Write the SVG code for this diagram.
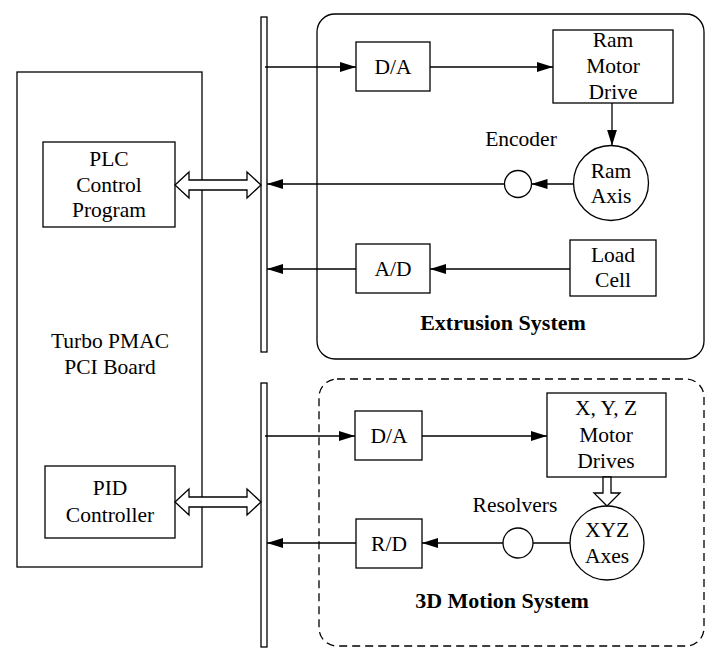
<svg xmlns="http://www.w3.org/2000/svg" width="710" height="656" viewBox="0 0 710 656" font-family="Liberation Serif, serif">
<style>
.b{fill:#fff;stroke:#000;stroke-width:1.3}
.t{font-size:21.5px;fill:#000;text-anchor:middle}
.bt{font-size:22px;font-weight:bold;fill:#000;text-anchor:middle}
.c{fill:none;stroke:#000;stroke-width:1.3}
.h{fill:#fff;stroke:#000;stroke-width:1.3;stroke-linejoin:miter}
</style>
<defs>
<marker id="ah" viewBox="0 0 16 10" refX="16" refY="5" markerWidth="16" markerHeight="10" markerUnits="userSpaceOnUse" orient="auto">
<path d="M0,0 L16,5 L0,10 Z" fill="#000"/>
</marker>
</defs>
<rect x="0" y="0" width="710" height="656" fill="#fff"/>

<g id="extrusion-system">
<rect class="b" x="317" y="14" width="387" height="345" rx="18"/>
<text class="bt" x="503" y="330" font-family="Liberation Serif, serif">Extrusion System</text>
</g>
<g id="motion-system">
<rect class="b" x="319" y="379" width="385" height="267" rx="18" stroke-dasharray="8,5"/>
<text class="bt" x="502" y="608" font-family="Liberation Serif, serif">3D Motion System</text>
</g>

<g id="pmac-board" font-family="Liberation Serif, serif">
<rect class="b" x="17" y="72" width="185" height="495"/>
<text class="t" x="110" y="348">Turbo PMAC</text>
<text class="t" x="110" y="374">PCI Board</text>
</g>
<g id="plc" font-family="Liberation Serif, serif">
<rect class="b" x="43" y="142" width="132" height="85"/>
<text class="t" x="109" y="166">PLC</text>
<text class="t" x="109" y="192">Control</text>
<text class="t" x="109" y="217">Program</text>
</g>
<g id="pid" font-family="Liberation Serif, serif">
<rect class="b" x="45" y="466" width="130" height="72"/>
<text class="t" x="110" y="495">PID</text>
<text class="t" x="110" y="522">Controller</text>
</g>

<g id="bus1"><rect class="b" x="261" y="17" width="6" height="335"/></g>
<g id="bus2"><rect class="b" x="261" y="383" width="6" height="264"/></g>

<g id="da1" font-family="Liberation Serif, serif">
<rect class="b" x="356" y="42" width="74" height="49"/>
<text class="t" x="393" y="74">D/A</text>
</g>
<g id="ram-motor-drive" font-family="Liberation Serif, serif">
<rect class="b" x="553" y="30" width="120" height="73"/>
<text class="t" x="613" y="47">Ram</text>
<text class="t" x="613" y="73">Motor</text>
<text class="t" x="613" y="99">Drive</text>
</g>
<g id="ram-axis" font-family="Liberation Serif, serif">
<circle class="b" cx="611" cy="183" r="37.5"/>
<text class="t" x="611" y="178">Ram</text>
<text class="t" x="611" y="203">Axis</text>
</g>
<g id="encoder" font-family="Liberation Serif, serif">
<circle class="b" cx="518" cy="184" r="13.5"/>
<text class="t" x="521" y="146">Encoder</text>
</g>
<g id="ad" font-family="Liberation Serif, serif">
<rect class="b" x="356" y="244" width="74" height="49"/>
<text class="t" x="393" y="276">A/D</text>
</g>
<g id="load-cell" font-family="Liberation Serif, serif">
<rect class="b" x="570" y="240" width="86" height="56"/>
<text class="t" x="613" y="262">Load</text>
<text class="t" x="613" y="287">Cell</text>
</g>

<g id="da2" font-family="Liberation Serif, serif">
<rect class="b" x="355" y="411" width="67" height="49"/>
<text class="t" x="389" y="443">D/A</text>
</g>
<g id="xyz-motor-drives" font-family="Liberation Serif, serif">
<rect class="b" x="547" y="393" width="119" height="84"/>
<text class="t" x="606" y="415">X, Y, Z</text>
<text class="t" x="606" y="442">Motor</text>
<text class="t" x="606" y="468">Drives</text>
</g>
<g id="xyz-axes" font-family="Liberation Serif, serif">
<circle class="b" cx="607" cy="543" r="37"/>
<text class="t" x="607" y="537">XYZ</text>
<text class="t" x="607" y="563">Axes</text>
</g>
<g id="resolver" font-family="Liberation Serif, serif">
<circle class="b" cx="518" cy="543" r="15"/>
<text class="t" x="515" y="512">Resolvers</text>
</g>
<g id="rd" font-family="Liberation Serif, serif">
<rect class="b" x="356" y="519" width="66" height="49"/>
<text class="t" x="389" y="551">R/D</text>
</g>

<g id="connectors">
<polygon class="h" points="175,185 189,172 189,180 247,180 247,172 261,185 247,198 247,190 189,190 189,198"/>
<polygon class="h" points="175,502 189,489 189,497 247,497 247,489 261,502 247,515 247,507 189,507 189,515"/>
<polygon class="h" points="603,477 611,477 611,493 620,493 607,506 594,493 603,493"/>
<line class="c" x1="265" y1="67" x2="356" y2="67" marker-end="url(#ah)"/>
<line class="c" x1="430" y1="67" x2="553" y2="67" marker-end="url(#ah)"/>
<line class="c" x1="612" y1="103" x2="612" y2="145.5" marker-end="url(#ah)"/>
<line class="c" x1="573.5" y1="184" x2="531.5" y2="184" marker-end="url(#ah)"/>
<line class="c" x1="504.5" y1="184" x2="267" y2="184" marker-end="url(#ah)"/>
<line class="c" x1="570" y1="269" x2="430" y2="269" marker-end="url(#ah)"/>
<line class="c" x1="356" y1="269" x2="267" y2="269" marker-end="url(#ah)"/>
<line class="c" x1="265" y1="436" x2="355" y2="436" marker-end="url(#ah)"/>
<line class="c" x1="422" y1="436" x2="547" y2="436" marker-end="url(#ah)"/>
<line class="c" x1="570" y1="543" x2="533" y2="543"/>
<line class="c" x1="503" y1="543" x2="422" y2="543" marker-end="url(#ah)"/>
<line class="c" x1="356" y1="543" x2="267" y2="543" marker-end="url(#ah)"/>
</g>
</svg>
